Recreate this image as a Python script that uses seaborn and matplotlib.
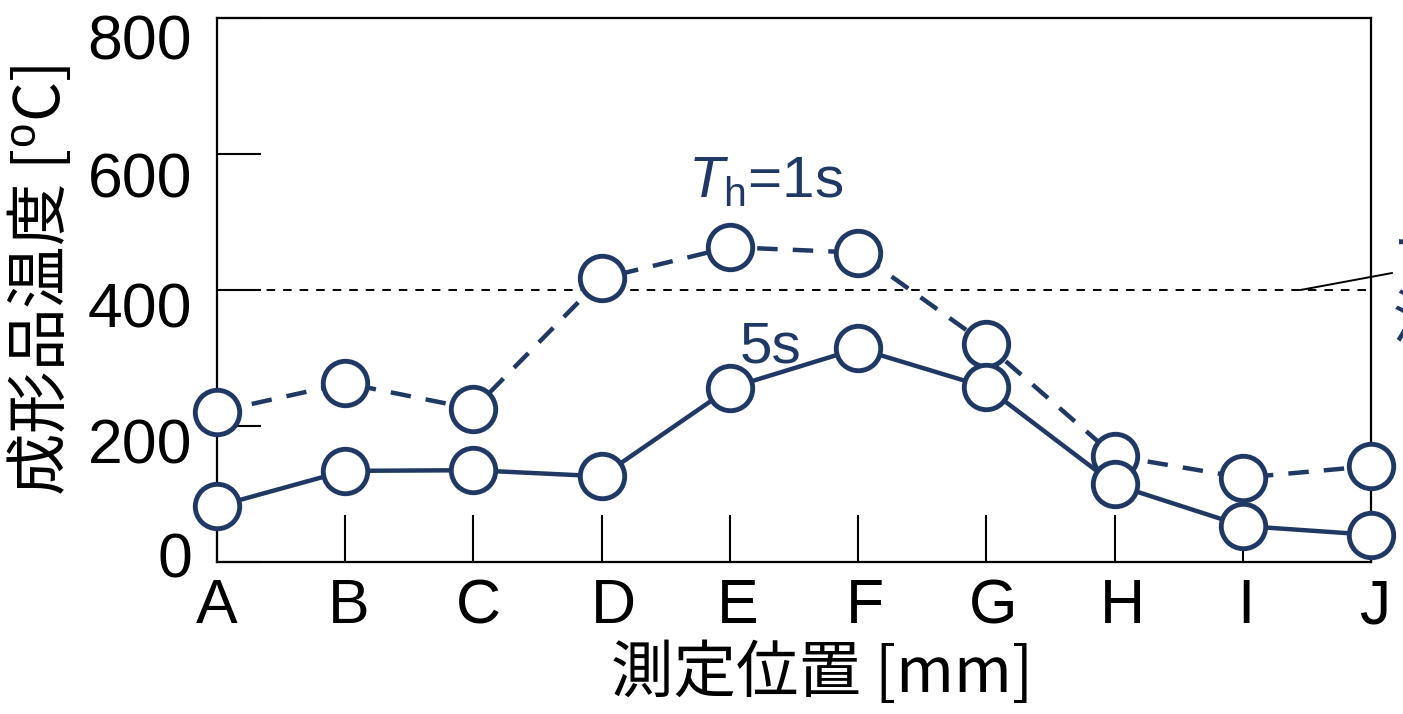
import numpy as np
import pandas as pd
import seaborn as sns
import matplotlib
matplotlib.use("Agg")
import matplotlib.pyplot as plt
from matplotlib.transforms import ScaledTranslation

# Measured temperatures at each position for two holding times
positions = ["A", "B", "C", "D", "E", "F", "G", "H", "I", "J"]
temp_hold_1s = [221, 263, 225, 417, 463, 455, 320, 156, 124, 141]
temp_hold_5s = [82, 134, 135, 126, 256, 314, 257, 114, 53, 40]
hold_labels = ["1s", "5s"]
y_ticks = [0, 200, 400, 600, 800]
threshold_temp = 400

NAVY = "#1f3864"
CJK = ["Noto Sans CJK JP", "Liberation Sans", "DejaVu Sans"]

sns.set_theme(style="ticks")
plt.rcParams["font.family"] = ["Liberation Sans", "Noto Sans CJK JP", "DejaVu Sans"]
plt.rcParams["text.color"] = "black"
plt.rcParams["axes.labelcolor"] = "black"
plt.rcParams["mathtext.fontset"] = "custom"
plt.rcParams["mathtext.rm"] = "Liberation Sans"
plt.rcParams["mathtext.it"] = "Liberation Sans:italic"
plt.rcParams["mathtext.bf"] = "Liberation Sans:bold"

fig = plt.figure(figsize=(14.03, 7.14), dpi=100)
ax = fig.add_axes([0.1547, 0.2129, 0.8225, 0.7619])

xpos = np.arange(len(positions))
df = pd.DataFrame({
    "pos": np.concatenate([xpos, xpos]),
    "temp": temp_hold_1s + temp_hold_5s,
    "hold": [hold_labels[0]] * len(positions) + [hold_labels[1]] * len(positions),
})

sns.lineplot(
    data=df, x="pos", y="temp", hue="hold", style="hold",
    palette={"1s": NAVY, "5s": NAVY},
    dashes={"1s": (4.6, 3.4), "5s": ""},
    markers={"1s": "o", "5s": "o"},
    markersize=32, markerfacecolor="white", markeredgecolor=NAVY,
    markeredgewidth=3.5, linewidth=3.2, legend=False, clip_on=False,
    ax=ax, zorder=3,
)

# Reference temperature line with a leader to the side note
ax.axhline(threshold_temp, xmin=0, xmax=0.997, color="black", lw=1.4,
           ls=(0, (4.4, 4.1)), zorder=1)
ax.plot([8.45, 9.165], [threshold_temp, threshold_temp + 25], color="black",
        lw=1.4, clip_on=False, zorder=2)
ax.text(9.17, threshold_temp + 41, "マルテンサイト変態", fontsize=42, color=NAVY,
        family=CJK, ha="left", va="center", clip_on=False)
ax.text(9.17, threshold_temp - 47, "温度", fontsize=42, color=NAVY,
        family=CJK, ha="left", va="center", clip_on=False)

# Series annotations
ax.text(3.673, 537, r"$T_{\mathrm{h}}$=1s", fontsize=42, color=NAVY,
        ha="left", va="baseline")
ax.text(4.079, 294, "5s", fontsize=42, color=NAVY, ha="left", va="baseline")

ax.set_xlim(0, 9)
ax.set_ylim(0, 800)
ax.set_xticks(xpos)
ax.set_xticklabels(positions)
ax.set_yticks(y_ticks)
ax.set_xlabel("")
ax.set_ylabel("")
ax.grid(False)

for s in ax.spines.values():
    s.set_visible(True)
    s.set_color("black")
    s.set_linewidth(1.6)

ax.tick_params(axis="x", direction="in", length=34, width=1.5, pad=11,
               labelsize=45, colors="black", top=False)
ax.tick_params(axis="y", direction="in", length=32, width=1.5, pad=18,
               labelsize=45, colors="black", right=False)

ax.set_xlabel("測定位置 [mm]", fontsize=45, family=CJK, va="center", color="black")
ax.xaxis.set_label_coords(0.524, -0.205)
ax.set_ylabel("成形品温度 [$^{\\mathrm{o}}$C]", fontsize=45, family=CJK,
              va="center", ha="center", color="black")
ax.yaxis.set_label_coords(-0.153, 0.518)

# Small hand-tuned nudges of the tick labels (pixels at 100 dpi)
x_label_dx = [0, 3, 5, 12, 8, 7, 7, 8, 3, 4]
y_label_dy = [-7, 15, 15, 21, 19]
for lab, dx in zip(ax.get_xticklabels(), x_label_dx):
    lab.set_transform(lab.get_transform() + ScaledTranslation(dx / 100, 0, fig.dpi_scale_trans))
for lab, dy in zip(ax.get_yticklabels(), y_label_dy):
    lab.set_transform(lab.get_transform() + ScaledTranslation(0, -dy / 100, fig.dpi_scale_trans))

fig.savefig("out.png", dpi=100)
